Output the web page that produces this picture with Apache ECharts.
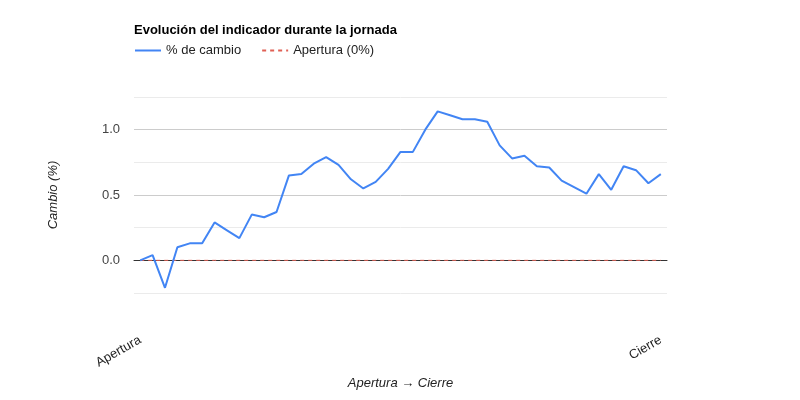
<!DOCTYPE html>
<html>
<head>
<meta charset="utf-8">
<script src="https://cdn.jsdelivr.net/npm/echarts@6/dist/echarts.min.js"></script>
<style>
  html, body { margin: 0; padding: 0; background: #fff; }
  #chart { width: 800px; height: 400px; }
</style>
</head>
<body>
<div id="chart"></div>
<script>
// puntos de la jornada, de la apertura al cierre
var categories = ['Apertura', '2', '3', '4', '5', '6', '7', '8', '9', '10', '11', '12', '13', '14',
    '15', '16', '17', '18', '19', '20', '21', '22', '23', '24', '25', '26', '27', '28', '29', '30',
    '31', '32', '33', '34', '35', '36', '37', '38', '39', '40', '41', '42', 'Cierre'];

// % de cambio respecto a la apertura
var cambio = [0.00, 0.04, -0.21, 0.10, 0.13, 0.13, 0.29, 0.23, 0.17, 0.35, 0.33, 0.37, 0.65,
    0.66, 0.74, 0.79, 0.73, 0.62, 0.55, 0.60, 0.70, 0.83, 0.83, 1.00, 1.14, 1.11, 1.08, 1.08,
    1.06, 0.88, 0.78, 0.80, 0.72, 0.71, 0.61, 0.56, 0.51, 0.66, 0.54, 0.72, 0.69, 0.59, 0.66];

// línea de referencia (0%)
var apertura = [0, 0, 0, 0, 0, 0, 0, 0, 0, 0, 0, 0, 0, 0, 0, 0, 0, 0, 0, 0, 0, 0,
    0, 0, 0, 0, 0, 0, 0, 0, 0, 0, 0, 0, 0, 0, 0, 0, 0, 0, 0, 0, 0];

var yTicks = [-0.25, 1.25, 0.25];   // min, max, paso

var font = 'Arial, "Liberation Sans", sans-serif';
var chart = echarts.init(document.getElementById('chart'));

chart.setOption({
    animation: false,
    textStyle: { fontFamily: font },
    title: {
        text: 'Evolución del indicador durante la jornada',
        left: 129,
        top: 19,
        textStyle: { fontSize: 13, fontWeight: 'bold', color: '#000', fontFamily: font }
    },
    legend: {
        left: 129,
        top: 39,
        itemWidth: 26,
        itemHeight: 14,
        itemGap: 20,
        // solo la línea, sin el círculo del símbolo
        itemStyle: { color: 'transparent', borderColor: 'transparent', borderWidth: 0 },
        textStyle: { fontSize: 13, color: '#222', fontFamily: font },
        data: ['% de cambio', 'Apertura (0%)']
    },
    grid: { left: 134, right: 133, top: 97, bottom: 107 },
    xAxis: {
        type: 'category',
        data: categories,
        boundaryGap: true,
        name: 'Apertura → Cierre',
        nameLocation: 'middle',
        nameGap: 84,
        nameTextStyle: { fontStyle: 'italic', fontSize: 13, color: '#222', fontFamily: font },
        axisLine: { show: true, onZero: true, lineStyle: { color: '#333', width: 1 } },
        axisTick: { show: false },
        splitLine: { show: false },
        axisLabel: {
            interval: function (idx) { return idx === 0 || idx === categories.length - 1; },
            rotate: 30,
            margin: 46,
            fontSize: 13,
            color: '#222',
            fontFamily: font
        }
    },
    yAxis: {
        type: 'value',
        min: yTicks[0],
        max: yTicks[1],
        interval: yTicks[2],
        name: 'Cambio (%)',
        nameLocation: 'middle',
        nameGap: 74,
        nameTextStyle: { fontStyle: 'italic', fontSize: 13, color: '#222', fontFamily: font },
        axisLine: { show: false },
        axisTick: { show: false },
        axisLabel: {
            margin: 14,
            fontSize: 13,
            color: '#444',
            fontFamily: font,
            formatter: function (v) {
                var r = Math.round(v * 100);
                return r % 50 === 0 ? (v).toFixed(1) : '';
            }
        },
        splitLine: { lineStyle: { color: ['#ebebeb', '#cccccc'], width: 1 } }
    },
    series: [
        {
            name: '% de cambio',
            type: 'line',
            data: cambio,
            symbol: 'none',
            lineStyle: { color: '#4285f4', width: 2 },
            itemStyle: { color: '#4285f4' },
            z: 3
        },
        {
            name: 'Apertura (0%)',
            type: 'line',
            data: apertura,
            symbol: 'none',
            lineStyle: { color: '#e06055', width: 1, type: [4, 4] },
            itemStyle: { color: '#e06055' },
            z: 2
        }
    ]
});
</script>
</body>
</html>
